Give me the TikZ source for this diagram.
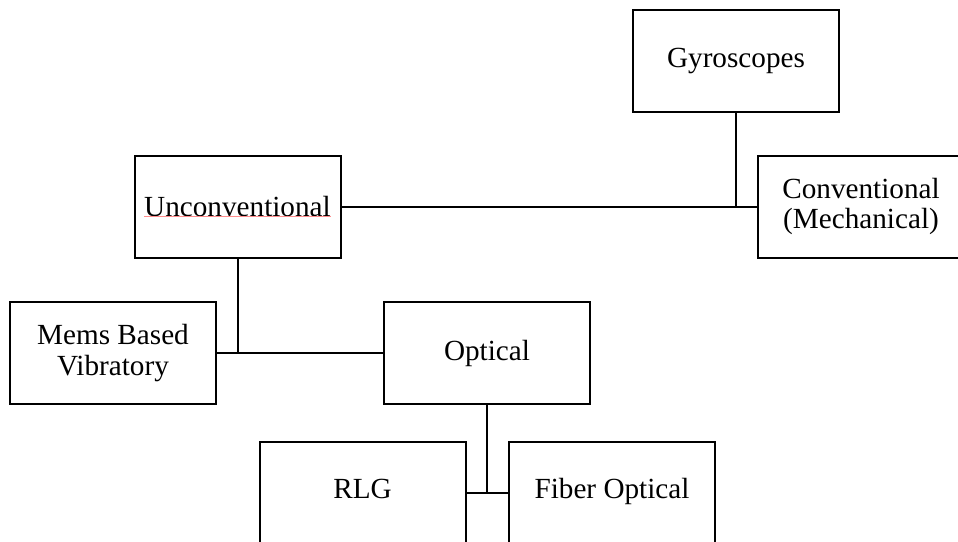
\documentclass[tikz,border=0pt]{standalone}
\usepackage{fontspec}
\setmainfont{Liberation Serif}
\usepackage{tikz}
\usetikzlibrary{calc}

\begin{document}
\begin{tikzpicture}[x=0.5pt,y=-0.5pt]
        \tikzset{gbox/.style={draw, line width=1pt, minimum width=103pt, minimum height=51pt,
                inner sep=0pt, outer sep=0pt, align=center,
                font=\fontsize{14.6}{15.3}\selectfont}}
        \tikzset{link/.style={line width=1pt}}
        \clip (0,0) rectangle (958,541);

        % boxes
        \node[gbox] (gyro) at (736,61) {Gyroscopes};
        \node[gbox] (conv) at (861,206.5) {Conventional\\(Mechanical)};
        \node[gbox] (unconv) at (237.5,206.5) {Unconventional};
        \node[gbox] (mems) at (113,353) {Mems Based\\Vibratory};
        \node[gbox] (optical) at (487,353) {Optical};
        \node[gbox] (rlg) at (362.5,492.5) {\strut RLG};
        \node[gbox] (fiber) at (612,492.5) {\strut Fiber Optical};

        % spell-check mark
        \draw[red!45, line width=0.3pt] (144,216.5) -- (331,216.5);

        % links
        \draw[link] (unconv.east) -- (conv.west);
        \draw[link] (gyro.south) -- (gyro.south |- conv.west);
        \draw[link] (mems.east) -- (optical.west);
        \draw[link] (unconv.south) -- (unconv.south |- mems.east);
        \draw[link] (rlg.east) -- (fiber.west);
        \draw[link] (optical.south) -- (optical.south |- rlg.east);
\end{tikzpicture}
\end{document}
